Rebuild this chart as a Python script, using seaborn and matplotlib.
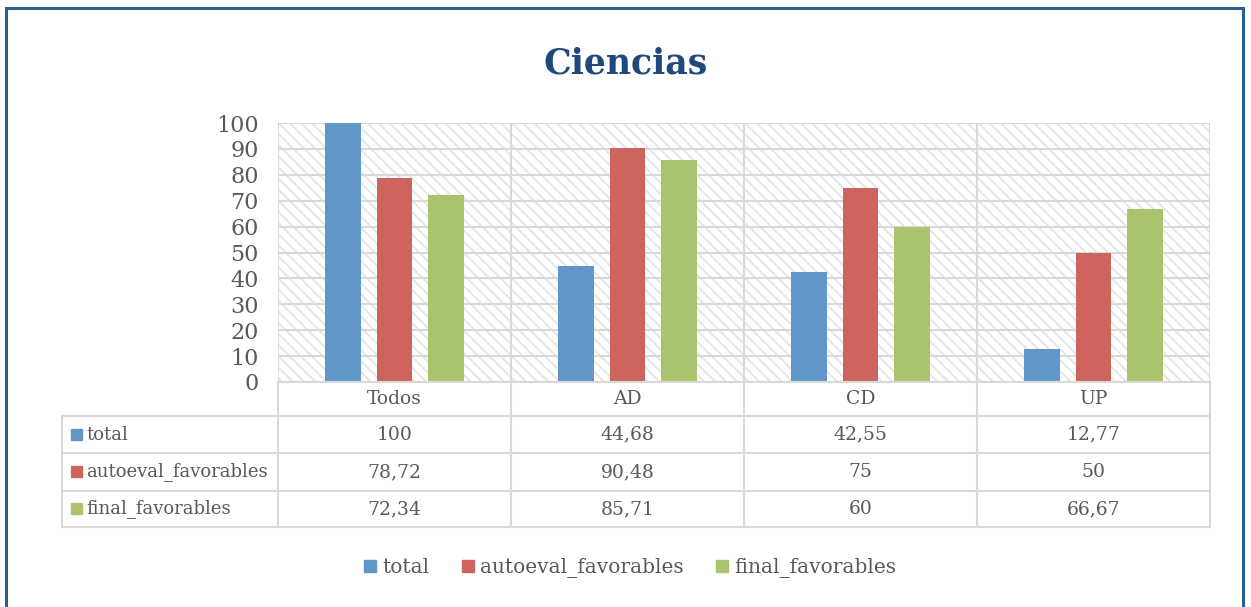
import pandas as pd
import seaborn as sns
import matplotlib.pyplot as plt
from matplotlib.patches import Rectangle
from matplotlib.lines import Line2D

# Datos del grafico
categorias = ["Todos", "AD", "CD", "UP"]
series = ["total", "autoeval_favorables", "final_favorables"]
total = [100, 44.68, 42.55, 12.77]
autoeval_favorables = [78.72, 90.48, 75, 50]
final_favorables = [72.34, 85.71, 60, 66.67]
etiquetas_total = ["100", "44,68", "42,55", "12,77"]
etiquetas_autoeval = ["78,72", "90,48", "75", "50"]
etiquetas_final = ["72,34", "85,71", "60", "66,67"]
yticks = list(range(0, 101, 10))

colores = ["#6096C8", "#CD645E", "#A9C46C"]
gris_txt = "#595959"
gris_lin = "#D9D9D9"

df = pd.DataFrame({
    "categoria": categorias * 3,
    "serie": [s for s in series for _ in categorias],
    "valor": total + autoeval_favorables + final_favorables,
})

sns.set_style("white")
plt.rcParams["font.family"] = ["DejaVu Serif"]
plt.rcParams["hatch.linewidth"] = 1.4

W, H = 1251, 607
fig = plt.figure(figsize=(W / 100, H / 100), dpi=100)

# marco azul exterior
fig.patches.append(Rectangle((6 / W, -0.05), (1243 - 6) / W, (H - 8) / H + 0.05,
                             transform=fig.transFigure, fill=False,
                             edgecolor="#2B5E96", lw=2.2, zorder=0))

x0, x1, ytop, ybot = 278, 1210, 123, 382
ax = fig.add_axes([x0 / W, (H - ybot) / H, (x1 - x0) / W, (ybot - ytop) / H])

# fondo rayado
ax.add_patch(Rectangle((0, 0), 1, 1, transform=ax.transAxes, facecolor="white",
                       edgecolor="#E6E6E6", lw=0, hatch="\\\\\\", zorder=0))

sns.barplot(data=df, x="categoria", y="valor", hue="serie", order=categorias,
            hue_order=series, palette=colores, width=0.66, gap=0.3,
            saturation=1, linewidth=0, ax=ax, legend=False, zorder=3)

ax.set_ylim(0, 100)
ax.set_xlim(-0.5, len(categorias) - 0.5)
ax.set_yticks(yticks)
ax.set_yticklabels([str(t) for t in yticks], fontsize=16, color=gris_txt)
ax.tick_params(axis="y", length=0, pad=14)
ax.set_xticks([])
ax.set_xlabel("")
ax.set_ylabel("")
for y in yticks:
    ax.axhline(y, color=gris_lin, lw=1.5, zorder=1)
for b in range(len(categorias) + 1):
    ax.axvline(b - 0.5, color=gris_lin, lw=1.5, zorder=1)
for s in ax.spines.values():
    s.set_visible(False)

# tabla de datos
def fx(px):
    return px / W

def fy(py):
    return (H - py) / H

filas = [ybot, 416, 453, 491, 527]
col_x = [x0 + i * (x1 - x0) / len(categorias) for i in range(len(categorias) + 1)]
tl = 62
kw = dict(transform=fig.transFigure, color=gris_lin, lw=1.5)
for i, y in enumerate(filas):
    xa = x0 if i == 0 else tl
    fig.add_artist(Line2D([fx(xa), fx(x1)], [fy(y), fy(y)], **kw))
for xc in col_x:
    fig.add_artist(Line2D([fx(xc), fx(xc)], [fy(filas[0]), fy(filas[-1])], **kw))
fig.add_artist(Line2D([fx(tl), fx(tl)], [fy(filas[1]), fy(filas[-1])], **kw))

for j, c in enumerate(categorias):
    cx = (col_x[j] + col_x[j + 1]) / 2
    fig.text(fx(cx), fy((filas[0] + filas[1]) / 2), c, ha="center", va="center",
             fontsize=13.5, color=gris_txt)

etiquetas = [etiquetas_total, etiquetas_autoeval, etiquetas_final]
for i, nombre in enumerate(series):
    cy = (filas[i + 1] + filas[i + 2]) / 2
    fig.patches.append(Rectangle((fx(71), fy(cy + 5)), 11 / W, 11 / H,
                                 transform=fig.transFigure, color=colores[i]))
    fig.text(fx(86), fy(cy), nombre, ha="left", va="center", fontsize=13,
             color=gris_txt)
    for j in range(len(categorias)):
        cx = (col_x[j] + col_x[j + 1]) / 2
        fig.text(fx(cx), fy(cy), etiquetas[i][j], ha="center", va="center",
                 fontsize=13.5, color=gris_txt)

# titulo
fig.text(fx(626), fy(63), "Ciencias", ha="center", va="center", fontsize=25,
         fontweight="bold", color="#1F497D")

# leyenda inferior
handles = [Rectangle((0, 0), 1, 1, color=c) for c in colores]
fig.legend(handles, series, loc="center", bbox_to_anchor=(fx(630), fy(568)),
           ncol=3, frameon=False, fontsize=14.5, handlelength=0.6, handleheight=0.6,
           handletextpad=0.3, columnspacing=1.6, labelcolor=gris_txt)

fig.savefig("out.png", dpi=100)
